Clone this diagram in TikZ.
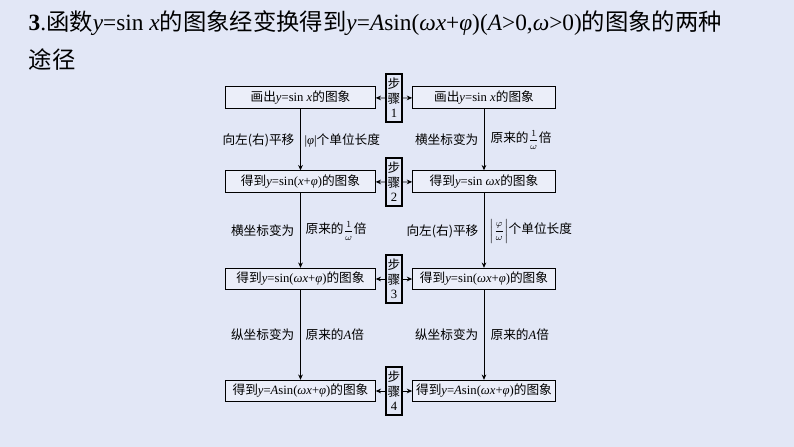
\documentclass[tikz,border=0pt]{standalone}
\usepackage{fontspec}
\setmainfont{Liberation Serif}
\newfontfamily\cjk{Noto Sans CJK SC}
\usetikzlibrary{arrows.meta}
\newcommand{\C}[1]{{\cjk #1}}
\newcommand{\I}[1]{\textit{#1}}
\newcommand{\myfr}[2]{{\fontsize{7.5}{8}\selectfont$\displaystyle\frac{#1}{#2}$}}
\begin{document}
\begin{tikzpicture}[x=0.75pt,y=-0.75pt,
  box/.style={draw,line width=0.8pt,fill=white!30!bgc,minimum height=16pt,inner sep=0pt,font=\fontsize{9.5}{10}\selectfont},
  stepbox/.style={draw,line width=0.8pt,minimum width=12pt,minimum height=36pt,inner sep=0pt,font=\fontsize{9.5}{11}\selectfont,align=center},
  arr/.style={-{Stealth[length=4pt,width=3.5pt]},line width=0.6pt},
  lab/.style={font=\fontsize{9.5}{10}\selectfont,inner sep=1pt}]
\definecolor{bgc}{RGB}{226,231,246}
\fill[bgc] (0,0) rectangle (794,447);
\useasboundingbox (0,0) rectangle (794,447);
\node[anchor=west,font=\fontsize{17.5}{20}\selectfont] (t1) at (24,23) {\textbf{3}.\C{函数}\I{y}=sin \I{x}\C{的图象经变换得到}\I{y}=\I{A}sin(\I{ωx}+\I{φ})(\I{A}>0,\I{ω}>0)\C{的图象的两种}};
\node[anchor=west,font=\fontsize{17.5}{20}\selectfont] (t2) at (24,60) {\C{途径}};
\node[box,minimum width=112pt] (L1) at (300.5,97.5) {\C{画出}\I{y}=sin \I{x}\C{的图象}};
\node[box,minimum width=112pt] (L2) at (300.5,181.5) {\C{得到}\I{y}=sin(\I{x}+\I{φ})\C{的图象}};
\node[box,minimum width=112pt] (L3) at (300.5,279) {\C{得到}\I{y}=sin(\I{ωx}+\I{φ})\C{的图象}};
\node[box,minimum width=112pt] (L4) at (300.5,391) {\C{得到}\I{y}=\I{A}sin(\I{ωx}+\I{φ})\C{的图象}};
\node[box,minimum width=107pt] (R1) at (484,97.5) {\C{画出}\I{y}=sin \I{x}\C{的图象}};
\node[box,minimum width=107pt] (R2) at (484,181.5) {\C{得到}\I{y}=sin \I{ωx}\C{的图象}};
\node[box,minimum width=107pt] (R3) at (484,279) {\C{得到}\I{y}=sin(\I{ωx}+\I{φ})\C{的图象}};
\node[box,minimum width=107pt] (R4) at (484,391) {\C{得到}\I{y}=\I{A}sin(\I{ωx}+\I{φ})\C{的图象}};
\node[stepbox] (S1) at (394,98) {\C{步}\\\C{骤}\\1};
\node[stepbox] (S2) at (394,182) {\C{步}\\\C{骤}\\2};
\node[stepbox] (S3) at (394,279) {\C{步}\\\C{骤}\\3};
\node[stepbox] (S4) at (394,391) {\C{步}\\\C{骤}\\4};
\foreach \i in {1,2,3,4}{
  \draw[arr] (S\i) -- (L\i);
  \draw[arr] (S\i) -- (R\i);}
\draw[arr] (L1) -- (L2); \draw[arr] (L2) -- (L3); \draw[arr] (L3) -- (L4);
\draw[arr] (R1) -- (R2); \draw[arr] (R2) -- (R3); \draw[arr] (R3) -- (R4);
\node[lab,anchor=east] (a1) at (296,140) {\C{向左(右)平移}};
\node[lab,anchor=west] (a2) at (303,140) {|\I{φ}|\C{个单位长度}};
\node[lab,anchor=east] (b1) at (480,140) {\C{横坐标变为}};
\node[lab,anchor=west] (b2) at (489,140) {\C{原来的}\myfr{1}{\omega}\C{倍}};
\node[lab,anchor=east] (c1) at (296,231) {\C{横坐标变为}};
\node[lab,anchor=west] (c2) at (304,231) {\C{原来的}\myfr{1}{\omega}\C{倍}};
\node[lab,anchor=east] (d1) at (480,231) {\C{向左(右)平移}};
\node[lab,anchor=west] (d2) at (488,231) {{\fontsize{7.5}{8}\selectfont$\displaystyle\left|\frac{\varphi}{\omega}\right|$}\C{个单位长度}};
\node[lab,anchor=east] (e1) at (296,335) {\C{纵坐标变为}};
\node[lab,anchor=west] (e2) at (304,335) {\C{原来的}\I{A}\C{倍}};
\node[lab,anchor=east] (f1) at (480,335) {\C{纵坐标变为}};
\node[lab,anchor=west] (f2) at (489,335) {\C{原来的}\I{A}\C{倍}};
\end{tikzpicture}
\end{document}
